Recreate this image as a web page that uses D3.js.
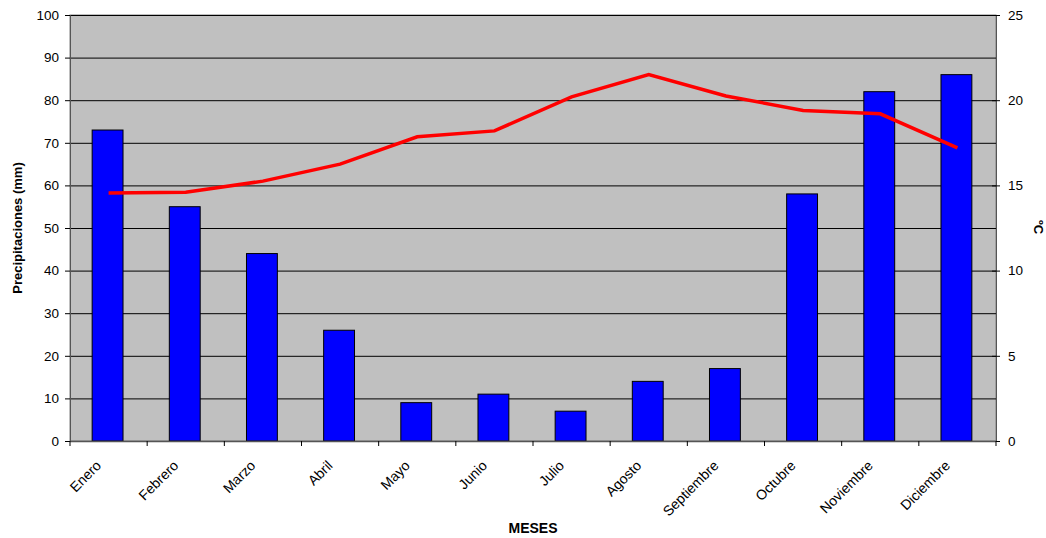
<!DOCTYPE html>
<html>
<head>
  <meta charset="utf-8">
  <script src="https://d3js.org/d3.v7.min.js"></script>
  <style>
    body { margin: 0; background: #fff; }
    text { font-family: "Liberation Sans", Arial, sans-serif; fill: #000; }
    .tick text { font-size: 13.5px; }
    .axis-title { font-size: 13px; font-weight: bold; }
  </style>
</head>
<body>
  <svg id="chart" width="1046" height="538"></svg>
  <script>
    // Datos
    const meses = ["Enero", "Febrero", "Marzo", "Abril", "Mayo", "Junio", "Julio", "Agosto", "Septiembre", "Octubre", "Noviembre", "Diciembre"];
    const precipitaciones = [73, 55, 44, 26, 9, 11, 7, 14, 17, 58, 82, 86];
    const temperaturas = [14.55, 14.6, 15.25, 16.25, 17.85, 18.2, 20.2, 21.5, 20.25, 19.4, 19.2, 17.2];
    const ticksPrecip = [0, 10, 20, 30, 40, 50, 60, 70, 80, 90, 100];
    const ticksTemp = [0, 5, 10, 15, 20, 25];

    const m = { left: 70, right: 50, top: 15, bottom: 97 };
    const W = 1046, H = 538;
    const iw = W - m.left - m.right, ih = H - m.top - m.bottom;

    const svg = d3.select("#chart");
    const g = svg.append("g").attr("transform", `translate(${m.left},${m.top})`);

    const x = d3.scaleBand().domain(meses).range([0, iw]);
    const yL = d3.scaleLinear().domain([0, 100]).range([ih, 0]);
    const yR = d3.scaleLinear().domain([0, 25]).range([ih, 0]);

    // Fondo del área de trazado
    g.append("rect").attr("width", iw).attr("height", ih)
      .attr("fill", "#c0c0c0").attr("stroke", "#808080").attr("stroke-width", 1);

    // Líneas de cuadrícula
    g.selectAll(".grid").data(ticksPrecip.slice(1)).enter().append("line")
      .attr("x1", 0).attr("x2", iw)
      .attr("y1", d => yL(d) + 0.5).attr("y2", d => yL(d) + 0.5)
      .attr("stroke", "#000").attr("stroke-width", 1);

    // Barras
    const bw = x.bandwidth() * 0.4;
    g.selectAll(".bar").data(precipitaciones).enter().append("rect")
      .attr("x", (d, i) => x(meses[i]) + x.bandwidth() / 2 - bw / 2 - 1)
      .attr("y", d => yL(d))
      .attr("width", bw)
      .attr("height", d => ih - yL(d))
      .attr("fill", "#0000ff").attr("stroke", "#000").attr("stroke-width", 1);

    // Línea de temperatura
    const line = d3.line()
      .x((d, i) => x(meses[i]) + x.bandwidth() / 2)
      .y(d => yR(d));
    g.append("path").datum(temperaturas)
      .attr("d", line).attr("fill", "none")
      .attr("stroke", "#ff0000").attr("stroke-width", 3.5);

    // Eje izquierdo
    const axL = g.append("g")
      .call(d3.axisLeft(yL).tickValues(ticksPrecip).tickSize(5).tickPadding(6));
    axL.select(".domain").attr("stroke", "#555");
    axL.selectAll(".tick line").attr("stroke", "#000");

    // Eje derecho
    const axR = g.append("g").attr("transform", `translate(${iw},0)`)
      .call(d3.axisRight(yR).tickValues(ticksTemp).tickSize(4).tickPadding(8));
    axR.select(".domain").attr("stroke", "#555");
    axR.selectAll(".tick line").attr("x1", -4).attr("stroke", "#000");

    // Eje inferior: marcas entre categorías
    const axB = g.append("g").attr("transform", `translate(0,${ih})`);
    axB.append("line").attr("x1", 0).attr("x2", iw).attr("y1", 0.5).attr("y2", 0.5)
      .attr("stroke", "#555").attr("stroke-width", 1.5);
    const bordes = meses.map(d => x(d)).concat([iw]);
    axB.selectAll(".tk").data(bordes).enter().append("line")
      .attr("x1", d => d).attr("x2", d => d).attr("y1", 0).attr("y2", 5)
      .attr("stroke", "#000");
    axB.selectAll(".lbl").data(meses).enter().append("text")
      .attr("transform", d => `translate(${x(d) + x.bandwidth() / 2 - 10},${22}) rotate(-45)`)
      .attr("text-anchor", "end")
      .attr("dy", "0.35em")
      .style("font-size", "14px")
      .text(d => d);

    // Títulos de ejes
    svg.append("text").attr("class", "axis-title")
      .attr("transform", `translate(22,${m.top + ih / 2}) rotate(-90)`)
      .attr("text-anchor", "middle").text("Precipitaciones (mm)");
    svg.append("text").attr("class", "axis-title")
      .attr("transform", `translate(1034,${m.top + ih / 2 - 1}) rotate(90)`)
      .attr("text-anchor", "middle").text("ºC");
    svg.append("text").attr("class", "axis-title")
      .style("font-size", "14px")
      .attr("x", m.left + iw / 2).attr("y", 533)
      .attr("text-anchor", "middle").text("MESES");
  </script>
</body>
</html>
